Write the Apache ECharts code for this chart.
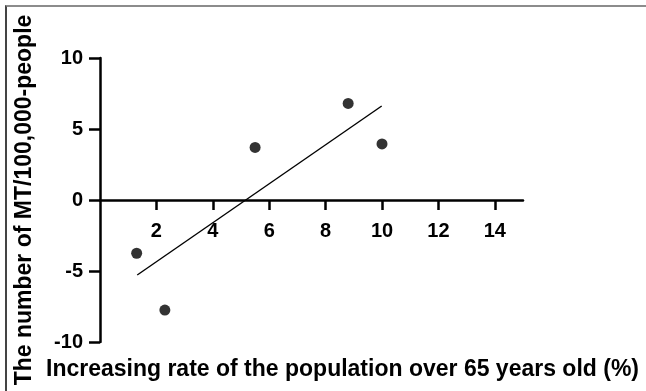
<!DOCTYPE html>
<html>
<head>
<meta charset="utf-8">
<script src="https://cdn.jsdelivr.net/npm/echarts@6/dist/echarts.min.js"></script>
<style>
  html, body { margin: 0; padding: 0; background: #fff; }
  #frame { position: absolute; left: 5px; top: 5px; width: 641px; height: 386px;
           border-top: 2px solid #8c8c8c; border-left: 2px solid #444; box-sizing: border-box; }
  #main { position: absolute; left: 0; top: 0; width: 646px; height: 391px; }
</style>
</head>
<body>
<div id="frame"></div>
<div id="main"></div>
<script>
// scatter points: growth of 65+ population (%) vs change in MT per 100,000
const rateX = [1.3, 2.3, 5.5, 8.8, 10.0];
const mtY = [-3.75, -7.75, 3.7, 6.8, 3.95];
// fitted line end points as drawn
const fitX = [1.32, 9.99];
const fitY = [-5.28, 6.62];
const xTicks = [2, 4, 6, 8, 10, 12, 14];
const yMin = -10, yMax = 10;

const font = '"Liberation Sans", Arial, sans-serif';
const gridTop = 58, gridBottom = 49;
const gridH = 391 - gridTop - gridBottom;
// x axis sits on y = 0, so pull it up from the grid bottom
const xOffset = -gridH * (0 - yMin) / (yMax - yMin);

const chart = echarts.init(document.getElementById('main'));

const option = {
    backgroundColor: 'transparent',
    animation: false,
    grid: { left: 100, right: 123, top: gridTop, bottom: gridBottom, containLabel: false, outerBoundsMode: 'none' },
    xAxis: {
        type: 'value',
        min: 0,
        max: 15,
        interval: 2,
        position: 'bottom',
        offset: xOffset,
        splitLine: { show: false },
        axisLine: { onZero: false, lineStyle: { color: '#000', width: 2.5 } },
        axisTick: { show: true, length: 10, customValues: xTicks, lineStyle: { color: '#000', width: 2.5 } },
        axisLabel: {
            customValues: xTicks, margin: 21,
            color: '#000', fontSize: 20, fontWeight: 'bold', fontFamily: font
        },
        name: 'Increasing rate of the population over 65 years old (%)',
        nameLocation: 'middle',
        nameGap: 158,
        nameTextStyle: { color: '#000', fontSize: 23, fontWeight: 'bold', fontFamily: font, padding: [0, 0, 0, 62] }
    },
    yAxis: {
        type: 'value',
        min: yMin,
        max: yMax,
        interval: 5,
        splitLine: { show: false },
        axisLine: { onZero: false, lineStyle: { color: '#000', width: 2.5 } },
        axisTick: { show: true, length: 11, lineStyle: { color: '#000', width: 2.5 } },
        axisLabel: { margin: 17, color: '#000', fontSize: 20, fontWeight: 'bold', fontFamily: font },
        name: 'The number of MT/100,000-people',
        nameLocation: 'middle',
        nameRotate: 90,
        nameGap: 64,
        nameTextStyle: { color: '#000', fontSize: 23, fontWeight: 'bold', fontFamily: font }
    },
    series: [
        {
            name: 'fit',
            type: 'line',
            data: fitX.map((x, i) => [x, fitY[i]]),
            showSymbol: false,
            lineStyle: { color: '#000', width: 1.4 },
            silent: true
        },
        {
            name: 'MT',
            type: 'scatter',
            data: rateX.map((x, i) => [x, mtY[i]]),
            symbol: 'circle',
            symbolSize: 11,
            itemStyle: { color: '#000' }
        }
    ]
};
chart.setOption(option);
</script>
</body>
</html>
